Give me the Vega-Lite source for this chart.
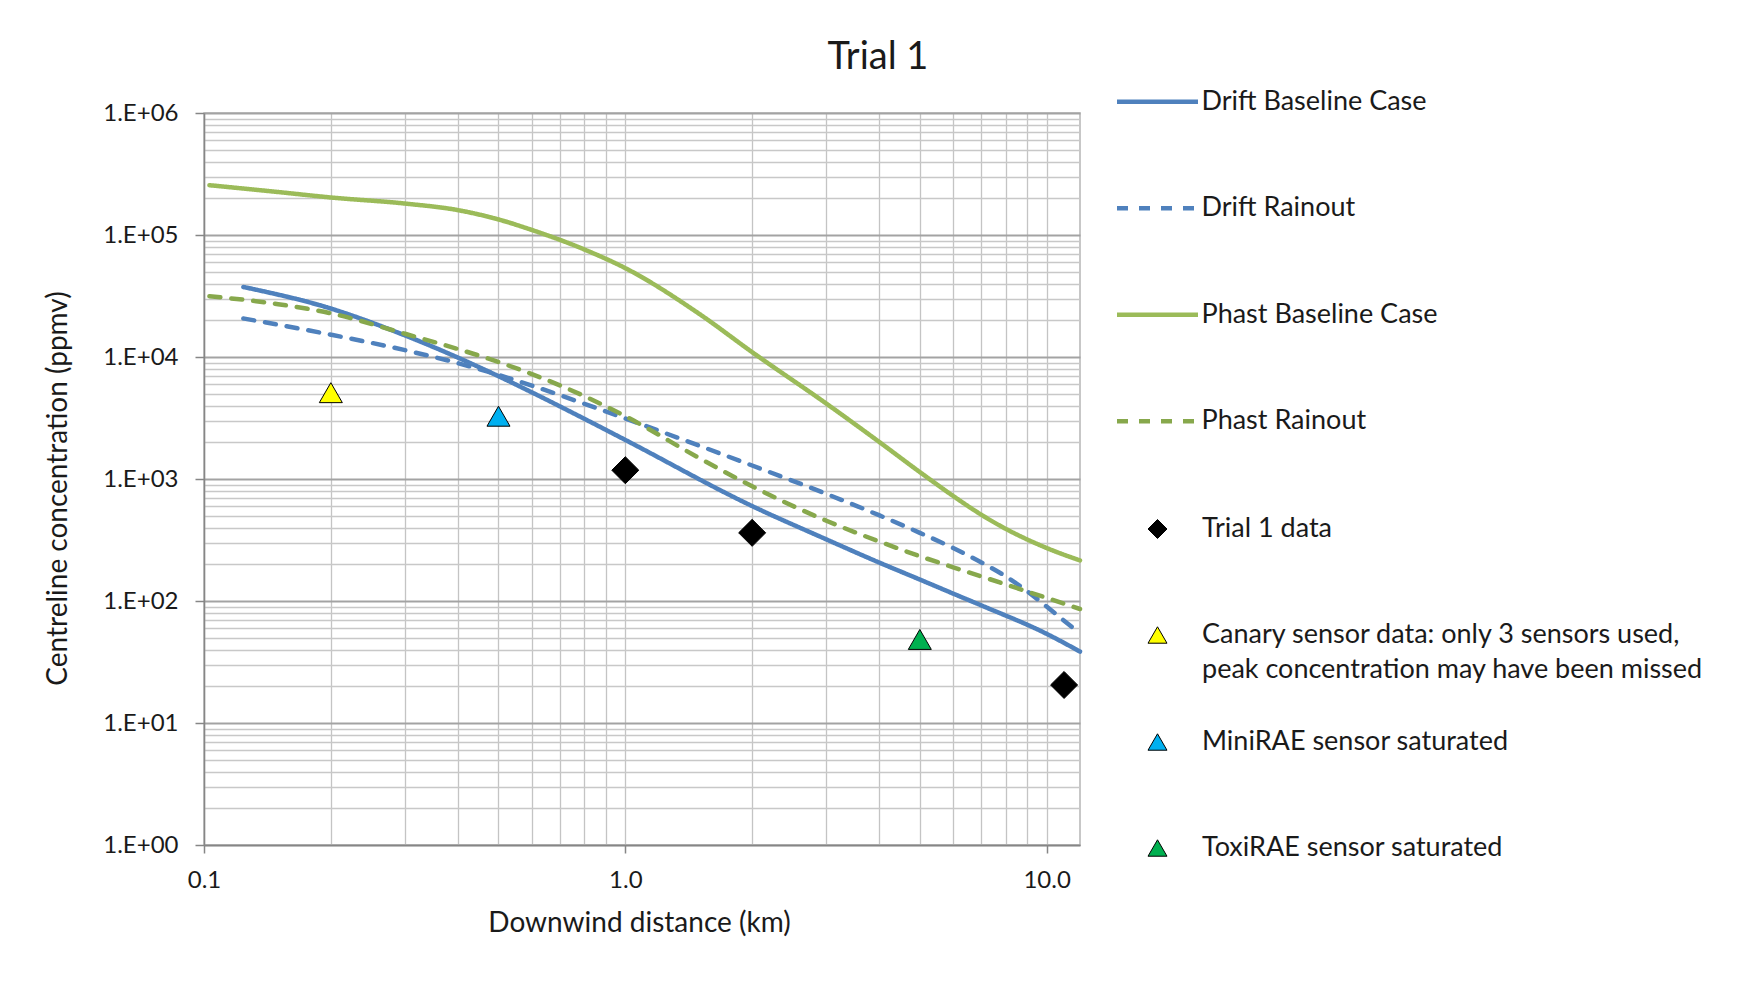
{
  "$schema": "https://vega.github.io/schema/vega-lite/v6.json",
  "autosize": {"type": "none"},
  "padding": {"left": 204, "top": 113, "right": 672, "bottom": 160},
  "width": 876,
  "height": 732,
  "background": "white",
  "title": {"text": "Trial 1", "frame": "group", "anchor": "middle", "dx": 236, "dy": 58, "fontSize": 38, "font": "Lato", "fontWeight": "normal", "color": "#1a1a1a", "offset": 40},
  "config": {"view": {"stroke": "#b5b5b5", "strokeWidth": 1.5}, "font": "Lato", "style": {"guide-label": {"lineHeight": 35}}},
  "datasets": {
    "lines": [
      {"d": 0.103, "c": 256000, "series": "Phast Baseline Case"},
      {"d": 0.15, "c": 225000, "series": "Phast Baseline Case"},
      {"d": 0.2, "c": 203000, "series": "Phast Baseline Case"},
      {"d": 0.3, "c": 181000, "series": "Phast Baseline Case"},
      {"d": 0.4, "c": 160000, "series": "Phast Baseline Case"},
      {"d": 0.5, "c": 134000, "series": "Phast Baseline Case"},
      {"d": 0.6, "c": 110000, "series": "Phast Baseline Case"},
      {"d": 0.8, "c": 76000, "series": "Phast Baseline Case"},
      {"d": 1.0, "c": 53500, "series": "Phast Baseline Case"},
      {"d": 1.5, "c": 22500, "series": "Phast Baseline Case"},
      {"d": 2.0, "c": 10960, "series": "Phast Baseline Case"},
      {"d": 3.0, "c": 4150, "series": "Phast Baseline Case"},
      {"d": 4.0, "c": 2020, "series": "Phast Baseline Case"},
      {"d": 5.0, "c": 1140, "series": "Phast Baseline Case"},
      {"d": 6.0, "c": 726, "series": "Phast Baseline Case"},
      {"d": 7.0, "c": 509, "series": "Phast Baseline Case"},
      {"d": 8.0, "c": 390, "series": "Phast Baseline Case"},
      {"d": 9.0, "c": 319, "series": "Phast Baseline Case"},
      {"d": 10.0, "c": 272, "series": "Phast Baseline Case"},
      {"d": 12.0, "c": 215, "series": "Phast Baseline Case"},

      {"d": 0.124, "c": 37500, "series": "Drift Baseline Case"},
      {"d": 0.2, "c": 24950, "series": "Drift Baseline Case"},
      {"d": 0.3, "c": 15030, "series": "Drift Baseline Case"},
      {"d": 0.4, "c": 9910, "series": "Drift Baseline Case"},
      {"d": 0.5, "c": 6960, "series": "Drift Baseline Case"},
      {"d": 0.6, "c": 5130, "series": "Drift Baseline Case"},
      {"d": 0.8, "c": 3110, "series": "Drift Baseline Case"},
      {"d": 1.0, "c": 2090, "series": "Drift Baseline Case"},
      {"d": 2.0, "c": 600, "series": "Drift Baseline Case"},
      {"d": 3.0, "c": 320, "series": "Drift Baseline Case"},
      {"d": 4.0, "c": 207, "series": "Drift Baseline Case"},
      {"d": 5.0, "c": 150, "series": "Drift Baseline Case"},
      {"d": 6.0, "c": 115, "series": "Drift Baseline Case"},
      {"d": 7.0, "c": 92, "series": "Drift Baseline Case"},
      {"d": 10.0, "c": 53.8, "series": "Drift Baseline Case"},
      {"d": 12.0, "c": 38.5, "series": "Drift Baseline Case"},

      {"d": 0.124, "c": 20700, "series": "Drift Rainout"},
      {"d": 0.2, "c": 15240, "series": "Drift Rainout"},
      {"d": 0.3, "c": 11380, "series": "Drift Rainout"},
      {"d": 0.4, "c": 8910, "series": "Drift Rainout"},
      {"d": 0.5, "c": 7130, "series": "Drift Rainout"},
      {"d": 0.6, "c": 5830, "series": "Drift Rainout"},
      {"d": 0.8, "c": 4130, "series": "Drift Rainout"},
      {"d": 1.0, "c": 3130, "series": "Drift Rainout"},
      {"d": 2.0, "c": 1290, "series": "Drift Rainout"},
      {"d": 3.0, "c": 755, "series": "Drift Rainout"},
      {"d": 4.0, "c": 505, "series": "Drift Rainout"},
      {"d": 5.0, "c": 362, "series": "Drift Rainout"},
      {"d": 6.0, "c": 272, "series": "Drift Rainout"},
      {"d": 7.0, "c": 207, "series": "Drift Rainout"},
      {"d": 8.0, "c": 159, "series": "Drift Rainout"},
      {"d": 9.0, "c": 120, "series": "Drift Rainout"},
      {"d": 10.0, "c": 90, "series": "Drift Rainout"},
      {"d": 11.0, "c": 69, "series": "Drift Rainout"},
      {"d": 12.0, "c": 54, "series": "Drift Rainout"},

      {"d": 0.103, "c": 31500, "series": "Phast Rainout"},
      {"d": 0.15, "c": 27100, "series": "Phast Rainout"},
      {"d": 0.2, "c": 22800, "series": "Phast Rainout"},
      {"d": 0.3, "c": 15500, "series": "Phast Rainout"},
      {"d": 0.4, "c": 11640, "series": "Phast Rainout"},
      {"d": 0.5, "c": 9100, "series": "Phast Rainout"},
      {"d": 0.6, "c": 7240, "series": "Phast Rainout"},
      {"d": 0.8, "c": 4770, "series": "Phast Rainout"},
      {"d": 1.0, "c": 3270, "series": "Phast Rainout"},
      {"d": 1.5, "c": 1480, "series": "Phast Rainout"},
      {"d": 2.0, "c": 871, "series": "Phast Rainout"},
      {"d": 3.0, "c": 455, "series": "Phast Rainout"},
      {"d": 4.0, "c": 308, "series": "Phast Rainout"},
      {"d": 5.0, "c": 233, "series": "Phast Rainout"},
      {"d": 6.0, "c": 189, "series": "Phast Rainout"},
      {"d": 7.0, "c": 159, "series": "Phast Rainout"},
      {"d": 10.0, "c": 106, "series": "Phast Rainout"},
      {"d": 12.0, "c": 86, "series": "Phast Rainout"}
    ],
    "points": [
      {"d": 1.0, "c": 1180, "sensor": "Trial 1 data"},
      {"d": 2.0, "c": 362, "sensor": "Trial 1 data"},
      {"d": 11.0, "c": 20.5, "sensor": "Trial 1 data"},
      {"d": 0.2, "c": 5100, "sensor": "Canary sensor data: only 3 sensors used, peak concentration may have been missed"},
      {"d": 0.5, "c": 3270, "sensor": "MiniRAE sensor saturated"},
      {"d": 5.0, "c": 48.4, "sensor": "ToxiRAE sensor saturated"}
    ]
  },
  "layer": [
    {
      "data": {"name": "lines"},
      "mark": {"type": "line", "strokeWidth": 4.5, "interpolate": "monotone", "strokeCap": "round"},
      "encoding": {
        "x": {
          "field": "d", "type": "quantitative",
          "scale": {"type": "log", "domain": [0.1, 12], "nice": false},
          "axis": {
            "title": "Downwind distance (km)",
            "values": [0.1, 0.2, 0.3, 0.4, 0.5, 0.6, 0.7, 0.8, 0.9, 1, 2, 3, 4, 5, 6, 7, 8, 9, 10],
            "labelExpr": "abs(log(datum.value)/LN10 - round(log(datum.value)/LN10)) < 0.001 ? format(datum.value, '.1f') : ''",
            "labelFlush": false, "labelOverlap": false, "labelBound": false,
            "labelFontSize": 24, "labelColor": "#1a1a1a", "labelFont": "Lato", "labelPadding": 15,
            "tickSize": 8, "tickColor": "#868686", "tickWidth": 1.5,
            "tickOpacity": {"condition": {"test": "abs(log(datum.value)/LN10 - round(log(datum.value)/LN10)) < 0.001", "value": 1}, "value": 0},
            "grid": true, "gridColor": "#c4c4c4", "gridWidth": 1.3,
            "domainColor": "#868686", "domainWidth": 1.5,
            "titleFontSize": 28, "titleFont": "Lato", "titleFontWeight": "normal", "titleColor": "#1a1a1a",
            "titleX": 435, "titleY": 78, "titleBaseline": "middle"
          }
        },
        "y": {
          "field": "c", "type": "quantitative",
          "scale": {"type": "log", "domain": [1, 1000000], "nice": false},
          "axis": {
            "title": "Centreline concentration (ppmv)",
            "values": [1,2,3,4,5,6,7,8,9,10,20,30,40,50,60,70,80,90,100,200,300,400,500,600,700,800,900,1000,2000,3000,4000,5000,6000,7000,8000,9000,10000,20000,30000,40000,50000,60000,70000,80000,90000,100000,200000,300000,400000,500000,600000,700000,800000,900000,1000000],
            "labelExpr": "abs(log(datum.value)/LN10 - round(log(datum.value)/LN10)) < 0.001 ? '1.E+0' + format(log(datum.value)/LN10, '.0f') : ''",
            "labelOverlap": false, "labelBound": false, "labelFlush": false,
            "labelFontSize": 24, "labelColor": "#1a1a1a", "labelFont": "Lato", "labelPadding": 17,
            "tickSize": 9, "tickColor": "#868686", "tickWidth": 1.5,
            "tickOpacity": {"condition": {"test": "abs(log(datum.value)/LN10 - round(log(datum.value)/LN10)) < 0.001", "value": 1}, "value": 0},
            "grid": true,
            "gridColor": {"condition": {"test": "abs(log(datum.value)/LN10 - round(log(datum.value)/LN10)) < 0.001", "value": "#a3a3a3"}, "value": "#c8c8c8"},
            "gridWidth": {"condition": {"test": "abs(log(datum.value)/LN10 - round(log(datum.value)/LN10)) < 0.001", "value": 1.8}, "value": 1.3},
            "domainColor": "#868686", "domainWidth": 1.5,
            "titleFontSize": 28, "titleFont": "Lato", "titleFontWeight": "normal", "titleColor": "#1a1a1a",
            "titleX": -146, "titleY": 375, "titleBaseline": "middle"
          }
        },
        "color": {
          "field": "series", "type": "nominal",
          "scale": {"domain": ["Drift Baseline Case", "Drift Rainout", "Phast Baseline Case", "Phast Rainout"], "range": ["#4f81bd", "#4f81bd", "#9bbb59", "#87a84c"]},
          "legend": {
            "title": null, "orient": "none", "legendX": 910.5, "legendY": -54.3,
            "symbolType": "stroke", "symbolSize": 6561, "symbolStrokeWidth": 4.5,
            "labelFontSize": 27, "labelFont": "Lato", "labelColor": "#1a1a1a", "labelOffset": 1,
            "rowPadding": 50.5, "padding": 0, "labelLimit": 700
          }
        },
        "strokeDash": {
          "field": "series", "type": "nominal",
          "scale": {"domain": ["Drift Baseline Case", "Drift Rainout", "Phast Baseline Case", "Phast Rainout"], "range": [[1, 0], [11, 11], [1, 0], [11, 11]]}
        }
      }
    },
    {
      "data": {"name": "points"},
      "transform": [{"filter": "datum.sensor == 'Trial 1 data'"}],
      "mark": {"type": "point", "filled": true, "stroke": "#000000", "strokeWidth": 1, "opacity": 1, "size": 730},
      "encoding": {
        "x": {"field": "d", "type": "quantitative"},
        "y": {"field": "c", "type": "quantitative"},
        "shape": {
          "field": "sensor", "type": "nominal",
          "scale": {"domain": ["Trial 1 data", "Canary sensor data: only 3 sensors used, peak concentration may have been missed", "MiniRAE sensor saturated", "ToxiRAE sensor saturated"], "range": ["diamond", "triangle-up", "triangle-up", "triangle-up"]},
          "legend": {
            "title": null, "orient": "none", "legendX": 940, "legendY": 402.5,
            "values": ["Trial 1 data", "Canary sensor data: only 3 sensors used, peak concentration may have been missed"],
            "symbolSize": 360, "symbolStrokeColor": "#000000", "symbolStrokeWidth": 1,
            "symbolFillColor": {"expr": "scale('fill', datum.value)"},
            "labelFontSize": 27, "labelFont": "Lato", "labelColor": "#1a1a1a", "labelOffset": 31,
            "rowPadding": 78, "padding": 0, "labelLimit": 800,
            "labelExpr": "indexof(datum.label, 'Canary') == 0 ? [slice(datum.label, 0, 40), slice(datum.label, 41)] : datum.label"
          }
        },
        "fill": {
          "field": "sensor", "type": "nominal",
          "scale": {"domain": ["MiniRAE sensor saturated", "ToxiRAE sensor saturated", "Trial 1 data", "Canary sensor data: only 3 sensors used, peak concentration may have been missed"], "range": ["#00b0f0", "#00b050", "#000000", "#ffff00"]},
          "legend": {
            "title": null, "orient": "none", "legendX": 940, "legendY": 615.5,
            "values": ["MiniRAE sensor saturated", "ToxiRAE sensor saturated"],
            "symbolType": "triangle-up", "symbolSize": 360, "symbolStrokeColor": "#000000", "symbolStrokeWidth": 1,
            "labelFontSize": 27, "labelFont": "Lato", "labelColor": "#1a1a1a", "labelOffset": 31,
            "rowPadding": 78, "padding": 0, "labelLimit": 800
          }
        }
      }
    },
    {
      "data": {"name": "points"},
      "transform": [{"filter": "datum.sensor != 'Trial 1 data'"}],
      "mark": {"type": "point", "filled": true, "stroke": "#000000", "strokeWidth": 1, "opacity": 1, "size": 530},
      "encoding": {
        "x": {"field": "d", "type": "quantitative"},
        "y": {"field": "c", "type": "quantitative"},
        "shape": {"field": "sensor", "type": "nominal"},
        "fill": {"field": "sensor", "type": "nominal"}
      }
    }
  ]
}
